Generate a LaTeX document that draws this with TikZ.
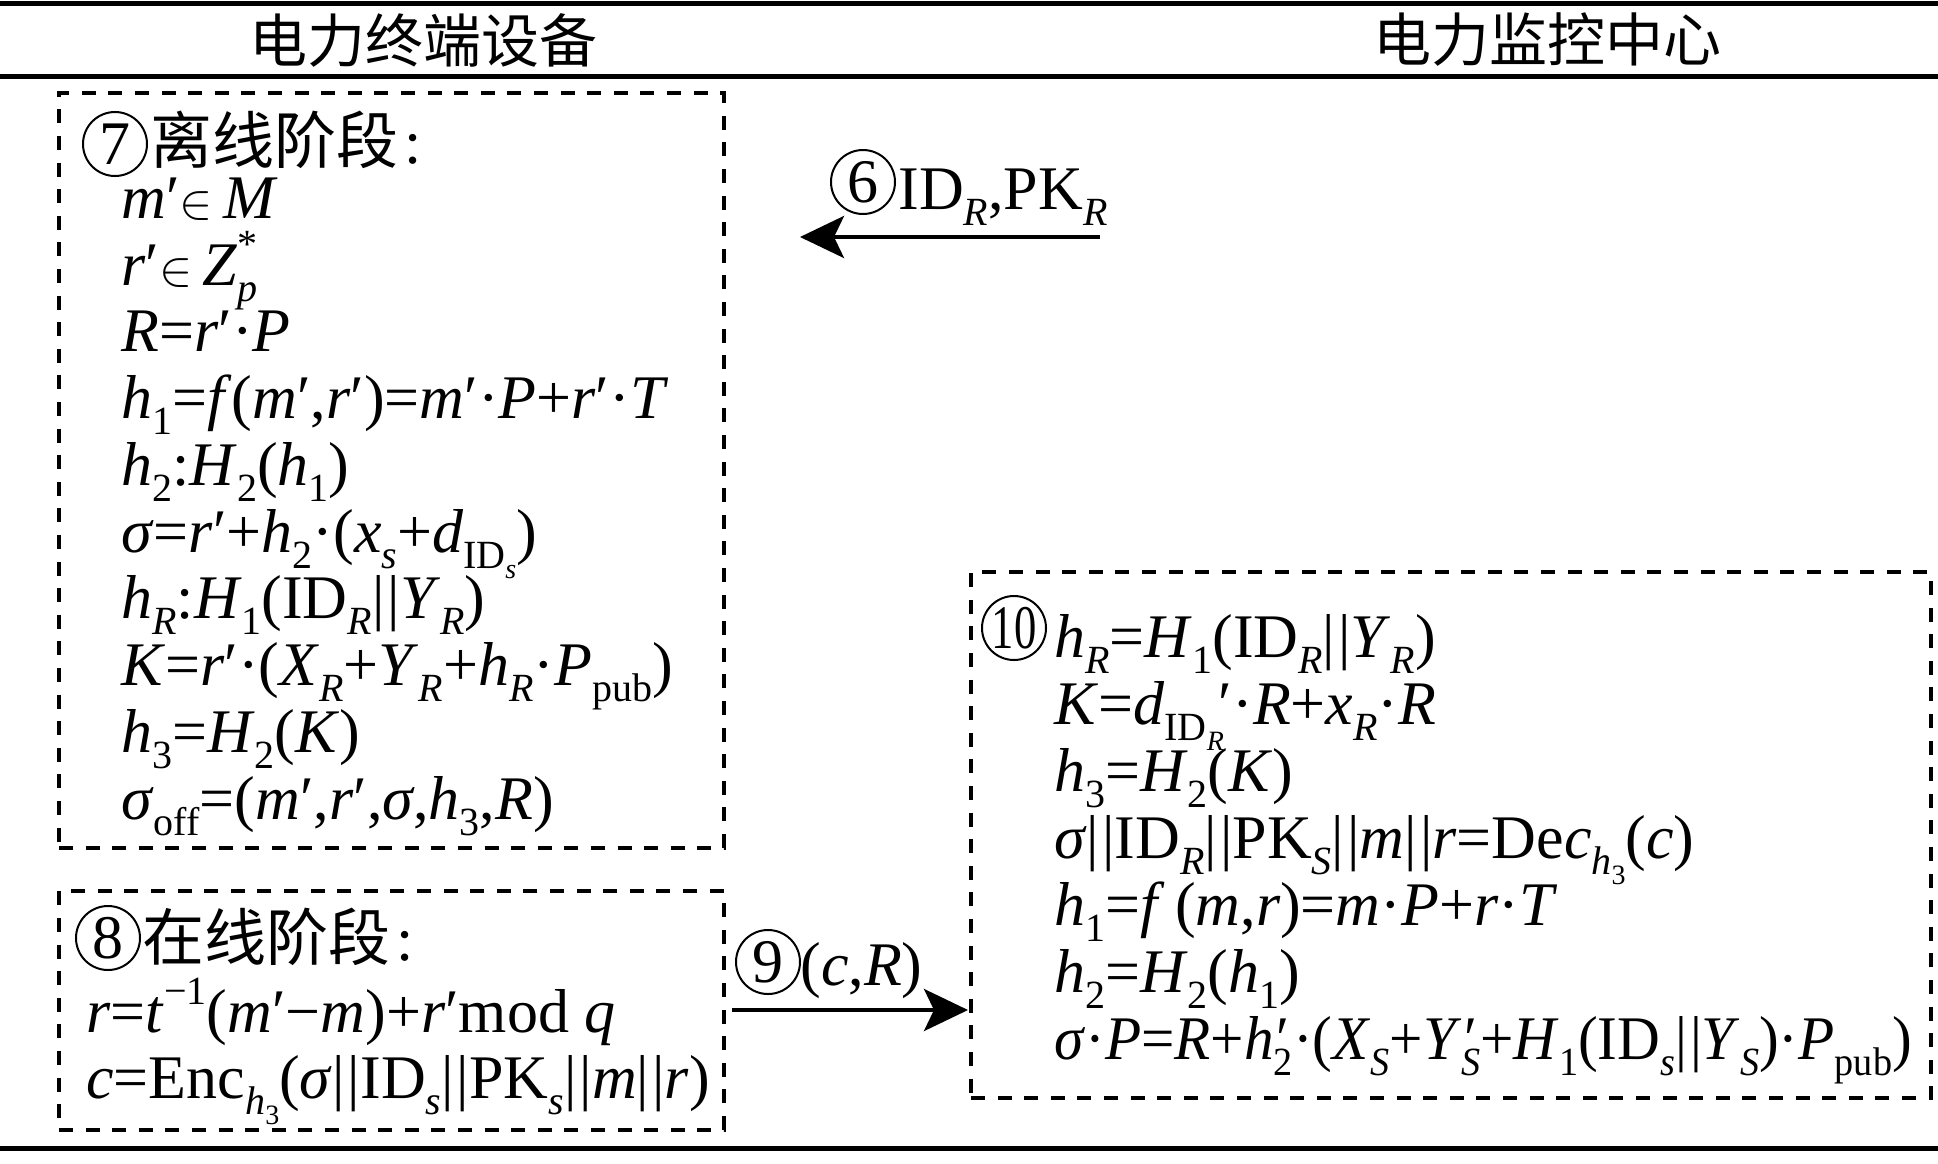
\documentclass[tikz,border=0pt]{standalone}
\usepackage{fontspec}
\usepackage{graphicx}
\setmainfont{Liberation Serif}
\newfontfamily\cjk{Noto Sans CJK SC}
\usetikzlibrary{arrows.meta}
\newcommand\I[1]{\textit{#1}}
\newcommand\sub[1]{\raisebox{-0.27em}{\fontsize{20}{20}\selectfont #1}}
\newcommand\ssub[1]{\raisebox{-0.25em}{\fontsize{14}{14}\selectfont #1}}
\newcommand\spr[1]{\raisebox{0.45em}{\fontsize{20}{20}\selectfont #1}}
\newcommand\subspr[2]{\ooalign{\sub{#1}\cr\spr{#2}\cr}}
\newcommand\subpr[1]{\ooalign{\sub{#1}\cr\kern0.05em′\cr}}
\newcommand\pr{′}
\newcommand\elem{{\fontsize{38}{38}\selectfont$\in$}}
\newcommand\bb{|\kern0.05em|}
\begin{document}
\begin{tikzpicture}[x=0.5pt,y=-0.5pt,
  eq/.style={anchor=base west,inner sep=0pt,font=\fontsize{31}{36}\selectfont},
  hd/.style={anchor=base west,inner sep=0pt,font=\cjk\fontsize{31}{36}\selectfont},
  top/.style={inner sep=0pt,font=\cjk\fontsize{29}{34}\selectfont},
  cnum/.style={draw,circle,line width=1pt,inner sep=0pt,minimum size=32pt,font=\fontsize{31}{31}\selectfont},
  dbox/.style={draw,line width=2pt,dash pattern=on 7pt off 6.3pt,inner sep=0pt},
  rule/.style={line width=2.5pt},
  msg/.style={line width=2pt,-{Stealth[length=22pt,width=21pt,inset=5pt]}}]
\useasboundingbox (0,0) rectangle (1938,1163);
% rules
\draw[rule] (0,3) -- (1938,3);
\draw[rule] (0,76) -- (1938,76);
\draw[rule] (0,1148) -- (1938,1148);
% column headers
\node[top] (hl) at (423,40) {电力终端设备};
\node[top] (hr) at (1547,40) {电力监控中心};
% boxes
\node[dbox,minimum width=332.5pt,minimum height=377.5pt] (b7) at (391.5,470.5) {};
\node[dbox,minimum width=332.5pt,minimum height=119.5pt] (b8) at (391.5,1010.5) {};
\node[dbox,minimum width=480pt,minimum height=263pt] (b10) at (1451,835) {};
% box 7
\node[cnum] (c7) at (115,144) {7};
\node[hd] (b7h) at (150,163) {离线阶段\rmfamily\kern0.1em:};
\node[eq] (b7a) at (121,218) {\I{m}\pr\elem\,\I{M}};
\node[eq] (b7b) at (121,285) {\I{r}\pr\elem\,\I{Z}\subspr{\I{p}}{*}};
\node[eq] (b7c) at (121,351) {\I{R}=\I{r}\pr·\I{P}};
\node[eq] (b7d) at (121,418) {\I{h}\sub{1}=\I{f}(\I{m}\pr,\I{r}\pr)=\I{m}\pr·\I{P}+\I{r}\pr·\I{T}};
\node[eq] (b7e) at (121,485) {\I{h}\sub{2}:\I{H}\sub{2}(\I{h}\sub{1})};
\node[eq] (b7f) at (121,552) {\I{σ}=\I{r}\pr+\I{h}\sub{2}·(\I{x}\sub{\I{s}}+\I{d}\sub{ID\ssub{\I{s}}})};
\node[eq] (b7g) at (121,618) {\I{h}\sub{\I{R}}:\I{H}\sub{1}(ID\sub{\I{R}}\bb\I{Y}\sub{\I{R}})};
\node[eq] (b7i) at (121,685) {\I{K}=\I{r}\pr·(\I{X}\sub{\I{R}}+\I{Y}\sub{\I{R}}+\I{h}\sub{\I{R}}·\I{P}\sub{pub})};
\node[eq] (b7j) at (121,752) {\I{h}\sub{3}=\I{H}\sub{2}(\I{K})};
\node[eq] (b7k) at (121,819) {\I{σ}\sub{off}=(\I{m}\pr,\I{r}\pr,\I{σ},\I{h}\sub{3},\I{R})};
% box 8
\node[cnum] (c8) at (108,938) {8};
\node[hd] (b8h) at (142,960) {在线阶段\rmfamily\kern0.1em:};
\node[eq] (b8a) at (86,1032) {\I{r}=\I{t}\spr{−1}(\I{m}\pr−\I{m})+\I{r}\pr mod \I{q}};
\node[eq] (b8b) at (86,1098) {\I{c}=Enc\sub{\I{h}\ssub{3}}(\I{σ}\bb ID\sub{\I{s}}\bb PK\sub{\I{s}}\bb\I{m}\bb\I{r})};
% box 10
\node[cnum] (c10) at (1014,628) {\scalebox{0.72}[1]{10}};
\node[eq] (b10a) at (1054,657) {\I{h}\sub{\I{R}}=\I{H}\sub{1}(ID\sub{\I{R}}\bb\I{Y}\sub{\I{R}})};
\node[eq] (b10b) at (1054,724) {\I{K}=\I{d}\sub{ID\ssub{\I{R}}}\kern-0.08em\pr·\I{R}+\I{x}\sub{\I{R}}·\I{R}};
\node[eq] (b10c) at (1054,791) {\I{h}\sub{3}=\I{H}\sub{2}(\I{K})};
\node[eq] (b10d) at (1054,858) {\I{σ}\bb ID\sub{\I{R}}\bb PK\sub{\I{S}}\bb\I{m}\bb\I{r}=De\I{c}\sub{\I{h}\ssub{3}}(\I{c})};
\node[eq] (b10e) at (1054,925) {\I{h}\sub{1}=\I{f}\,(\I{m},\I{r})=\I{m}·\I{P}+\I{r}·\I{T}};
\node[eq] (b10f) at (1054,992) {\I{h}\sub{2}=\I{H}\sub{2}(\I{h}\sub{1})};
\node[eq] (b10g) at (1054,1059) {\scalebox{0.955}[1]{\I{σ}·\I{P}=\I{R}+\I{h}\subpr{2}·(\I{X}\sub{\I{S}}+\I{Y}\subpr{\I{S}}+\I{H}\sub{1}(ID\sub{\I{s}}\bb\I{Y}\sub{\I{S}})·\I{P}\sub{pub})}};
% message 6
\node[cnum] (c6) at (863,182) {6};
\node[eq] (m6l) at (898,209) {ID\sub{\I{R}},PK\sub{\I{R}}};
\coordinate (m6s) at (1100,237);
\coordinate (m6e) at (800,237);
\draw[msg] (m6s) -- (m6e);
% message 9
\node[cnum] (c9) at (768,962) {9};
\node[eq] (m9l) at (800,985) {(\I{c},\I{R})};
\coordinate (m9s) at (732,1010);
\coordinate (m9e) at (968,1010);
\draw[msg] (m9s) -- (m9e);
\end{tikzpicture}
\end{document}
